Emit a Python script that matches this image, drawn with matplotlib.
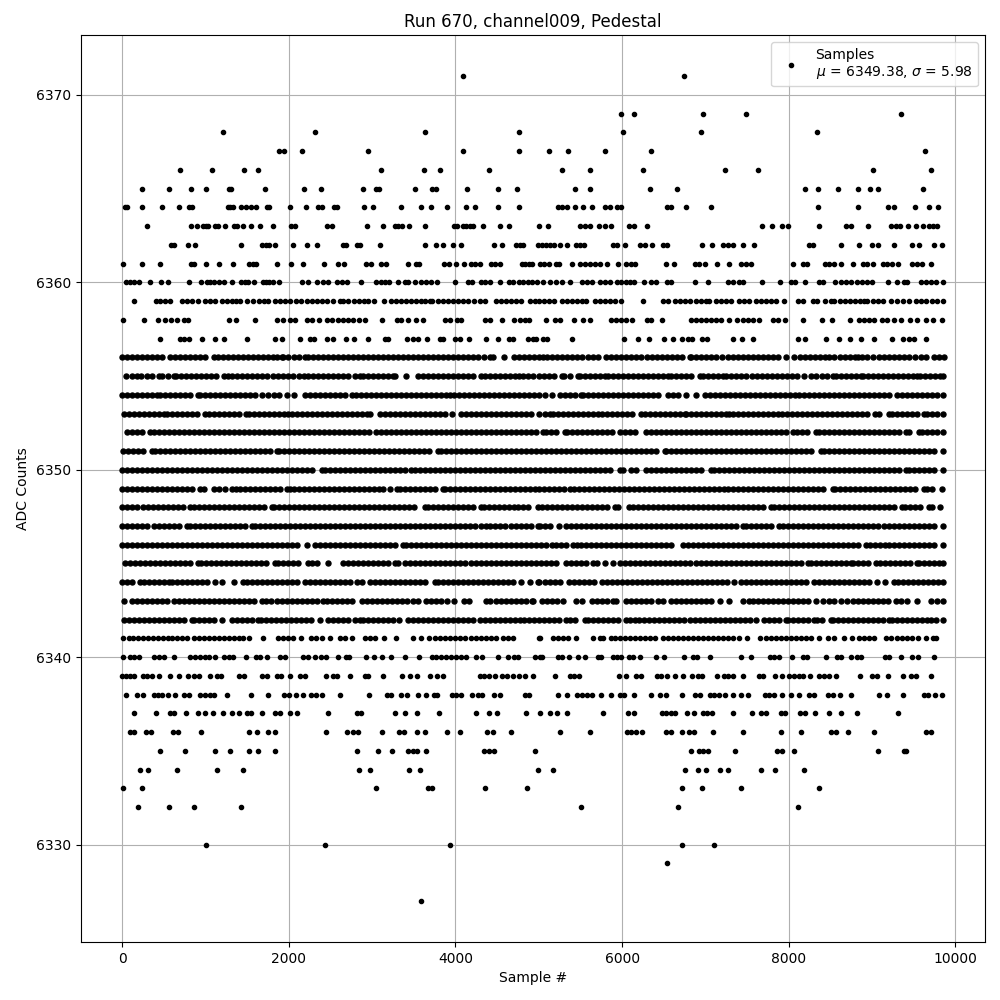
import matplotlib
matplotlib.use("Agg")
import matplotlib.pyplot as plt

r6371 = [4090, 6742]
r6369 = [5992, 6144, 6970, 7484, 9352]
r6368 = [1205, 2318, 3635, 4760, 6012, 6946, 8334]
r6367 = [1887, 1939, 2163, 2953, 4090, 4760, 5126, 5354, 5797, 6347, 9639]
r6366 = [690, 1073, 1468, 1636, 3108, 3627, 3814, 4400, 5282, 5617, 6251, 7233, 7628, 9016, 9711]
r6365 = [235, 559, 826, 1001, 1277, 1305, 1720, 2186, 2390, 2893, 3052, 3084, 3515, 3715, 3771, 4138, 4509, 4736, 5441, 5617, 6335, 6658, 8190, 8346, 8586, 8837, 8981, 9076, 9615]
r6364 = [36, 64, 235, 475, 678, 802, 842, 1269, 1297, 1325, 1428, 1484, 1544, 1612, 1736, 1764, 2019, 2210, 2346, 2394, 2542, 2574, 2905, 3012, 3348, 3587, 3707, 3898, 4126, 4234, 4509, 4760, 5234, 5282, 5334, 5437, 5533, 5641, 5797, 5852, 5940, 5992, 6538, 6582, 6770, 7065, 8346, 8837, 9196, 9264, 9519, 9679, 9794]
r6363 = [295, 826, 894, 970, 1001, 1033, 1109, 1153, 1229, 1345, 1381, 1456, 1552, 1652, 1815, 2031, 2075, 2458, 2522, 2941, 3132, 3272, 3312, 3364, 3443, 3635, 3978, 4022, 4090, 4130, 4170, 4214, 4329, 4533, 4640, 4999, 5110, 5497, 5553, 5613, 5725, 5793, 5864, 6084, 6140, 6299, 7676, 7796, 7915, 7987, 8358, 8685, 8745, 8957, 9232, 9284, 9332, 9435, 9523, 9615, 9683, 9731, 9783]
r6362 = [587, 618, 794, 874, 1432, 1684, 1728, 1768, 1831, 2051, 2222, 2338, 2653, 2685, 2821, 2853, 3096, 3635, 3767, 3850, 3970, 4066, 4461, 4557, 4724, 4776, 4816, 4991, 5038, 5086, 5134, 5182, 5254, 5334, 5449, 5493, 5549, 5892, 5940, 6040, 6211, 6279, 6359, 6491, 6542, 6958, 7077, 7217, 7273, 7329, 7456, 7580, 8246, 8294, 8633, 8849, 9004, 9068, 9268, 9483, 9563, 9743, 9834]
r6361 = [8, 235, 451, 826, 866, 1001, 1157, 1333, 1528, 1568, 1608, 1855, 2031, 2174, 2418, 2589, 2657, 2925, 2981, 3108, 3164, 3431, 3523, 3563, 3858, 3918, 4006, 4102, 4182, 4230, 4293, 4425, 4469, 4533, 4800, 4840, 4880, 4915, 5014, 5062, 5122, 5206, 5242, 5401, 5493, 5553, 5613, 5673, 5733, 5820, 5952, 6052, 6104, 6160, 6531, 6618, 6870, 6922, 6998, 7141, 7289, 7428, 7488, 7548, 8055, 8167, 8219, 8434, 8486, 8538, 8625, 8777, 8893, 8945, 9012, 9132, 9184, 9244, 9312, 9483, 9543, 9595, 9711]
r6360 = [52, 92, 140, 200, 331, 463, 547, 798, 942, 1013, 1057, 1097, 1157, 1221, 1321, 1432, 1472, 1508, 1588, 1688, 1728, 1768, 1807, 1887, 2158, 2234, 2342, 2406, 2474, 2581, 2637, 2693, 2869, 3048, 3112, 3156, 3204, 3312, 3392, 3431, 3515, 3587, 3651, 3711, 3783, 3990, 4150, 4202, 4309, 4349, 4417, 4533, 4640, 4688, 4760, 4808, 4868, 4915, 4975, 5054, 5134, 5206, 5282, 5373, 5525, 5581, 5645, 5733, 5793, 5852, 5940, 5992, 6044, 6100, 6148, 6263, 6351, 6403, 6543, 6582, 6874, 7030, 7277, 7337, 7401, 7448, 7676, 7895, 8027, 8079, 8190, 8366, 8406, 8558, 8625, 8685, 8745, 8825, 8885, 8945, 9004, 9188, 9296, 9383, 9423, 9583, 9643, 9711, 9771, 9850]
r6359 = [140, 411, 451, 519, 571, 718, 780, 840, 905, 998, 1057, 1117, 1197, 1255, 1315, 1369, 1420, 1504, 1570, 1640, 1700, 1756, 1835, 1895, 1960, 2020, 2085, 2150, 2214, 2274, 2335, 2400, 2460, 2525, 2613, 2653, 2715, 2780, 2840, 2901, 2953, 3024, 3144, 3232, 3290, 3350, 3410, 3470, 3530, 3590, 3640, 3691, 3719, 3790, 3850, 3910, 3970, 4030, 4090, 4150, 4225, 4289, 4357, 4489, 4550, 4610, 4670, 4730, 4788, 4896, 4955, 5007, 5060, 5120, 5180, 5274, 5334, 5395, 5455, 5515, 5573, 5673, 5735, 5795, 5855, 5920, 5992, 6251, 6491, 6550, 6630, 6698, 6760, 6820, 6885, 6945, 7009, 7049, 7129, 7189, 7250, 7310, 7408, 7468, 7528, 7608, 7670, 7730, 7790, 7850, 7947, 8107, 8167, 8286, 8345, 8430, 8506, 8546, 8610, 8670, 8730, 8790, 8850, 8905, 8945, 9010, 9070, 9130, 9224, 9304, 9375, 9443, 9523, 9585, 9650, 9715, 9783, 9850]
r6358 = [8, 259, 431, 519, 591, 658, 746, 790, 1277, 1369, 1600, 1863, 1927, 2015, 2075, 2222, 2278, 2366, 2454, 2514, 2593, 2655, 2715, 2775, 2840, 2913, 3124, 3300, 3352, 3432, 3531, 3611, 3870, 3938, 4018, 4070, 4349, 4409, 4561, 4708, 4775, 4830, 4888, 5083, 5194, 5254, 5429, 5533, 5613, 5864, 5924, 5992, 6052, 6124, 6299, 6351, 6475, 6830, 6890, 6950, 7009, 7069, 7130, 7190, 7289, 7377, 7448, 7508, 7568, 7640, 7807, 7867, 7959, 8167, 8398, 8514, 8741, 8845, 8905, 8965, 9025, 9124, 9184, 9260, 9344, 9451, 9543, 9643, 9731, 9834]
r6357 = [451, 698, 746, 798, 954, 1109, 1217, 1504, 1835, 1923, 2139, 2254, 2302, 2454, 2526, 2689, 2785, 2953, 3152, 3192, 3419, 3491, 3551, 3659, 3810, 3850, 3990, 4050, 4161, 4369, 4509, 4648, 4696, 4868, 4936, 4967, 5054, 5094, 5401, 6024, 6192, 6323, 6503, 6610, 6722, 6790, 6838, 6958, 7017, 7329, 7436, 7568, 8107, 8195, 8442, 8609, 8741, 8873, 9028, 9244, 9376, 9443, 9503, 9651]
r6356 = [0, 60, 120, 180, 240, 300, 360, 420, 480, 578, 638, 700, 760, 820, 880, 940, 1000, 1097, 1145, 1205, 1265, 1325, 1385, 1445, 1505, 1565, 1625, 1685, 1745, 1805, 1860, 1915, 1935, 1995, 2060, 2125, 2194, 2234, 2295, 2355, 2415, 2475, 2535, 2595, 2655, 2715, 2775, 2835, 2895, 2955, 3015, 3075, 3135, 3195, 3255, 3315, 3375, 3435, 3495, 3555, 3615, 3675, 3735, 3795, 3855, 3915, 3975, 4035, 4095, 4155, 4215, 4275, 4340, 4409, 4449, 4577, 4708, 4768, 4828, 4888, 4948, 5007, 5054, 5102, 5165, 5225, 5285, 5345, 5405, 5465, 5525, 5590, 5650, 5713, 5804, 5865, 5925, 5990, 6050, 6110, 6172, 6231, 6295, 6355, 6415, 6475, 6535, 6595, 6655, 6715, 6810, 6830, 6890, 6950, 7010, 7070, 7129, 7201, 7269, 7330, 7390, 7450, 7510, 7570, 7630, 7690, 7750, 7810, 7867, 7967, 8067, 8130, 8190, 8250, 8310, 8370, 8430, 8486, 8546, 8610, 8670, 8730, 8790, 8830, 8885, 8945, 9015, 9084, 9144, 9205, 9265, 9325, 9385, 9445, 9520, 9583, 9651, 9743, 9800, 9862]
r6355 = [48, 120, 180, 227, 299, 360, 439, 479, 550, 618, 646, 706, 766, 826, 886, 946, 1006, 1066, 1126, 1217, 1265, 1317, 1377, 1437, 1497, 1557, 1617, 1677, 1736, 1807, 1870, 1930, 1990, 2050, 2120, 2183, 2234, 2294, 2354, 2414, 2474, 2534, 2594, 2654, 2714, 2790, 2853, 2893, 2953, 3013, 3073, 3133, 3193, 3252, 3280, 3412, 3551, 3610, 3671, 3731, 3791, 3851, 3911, 3971, 4031, 4091, 4151, 4211, 4309, 4357, 4420, 4480, 4540, 4600, 4660, 4720, 4768, 4808, 4870, 4930, 5007, 5065, 5125, 5185, 5274, 5306, 5380, 5473, 5493, 5555, 5615, 5675, 5735, 5792, 5832, 5892, 5952, 6012, 6072, 6132, 6192, 6252, 6312, 6372, 6432, 6492, 6551, 6590, 6650, 6710, 6770, 6830, 6930, 6970, 7030, 7090, 7150, 7209, 7249, 7310, 7370, 7430, 7488, 7560, 7620, 7680, 7740, 7800, 7860, 7920, 7980, 8040, 8100, 8186, 8266, 8330, 8395, 8460, 8526, 8566, 8626, 8686, 8746, 8806, 8865, 8897, 8957, 9017, 9077, 9137, 9197, 9257, 9317, 9377, 9437, 9497, 9543, 9571, 9631, 9691, 9751, 9811, 9850]
r6354 = [0, 60, 120, 180, 240, 300, 360, 419, 451, 511, 571, 631, 691, 751, 811, 906, 938, 998, 1058, 1118, 1178, 1238, 1298, 1358, 1418, 1478, 1538, 1598, 1676, 1756, 1820, 1880, 1975, 2059, 2194, 2254, 2314, 2374, 2434, 2494, 2554, 2614, 2674, 2753, 2801, 2861, 2921, 2981, 3041, 3101, 3161, 3221, 3281, 3341, 3401, 3461, 3521, 3581, 3641, 3701, 3761, 3821, 3881, 3930, 3978, 4038, 4098, 4158, 4218, 4278, 4338, 4398, 4458, 4518, 4578, 4638, 4698, 4758, 4818, 4878, 4938, 5007, 5074, 5154, 5254, 5314, 5374, 5434, 5513, 5533, 5593, 5653, 5713, 5773, 5833, 5893, 5953, 6013, 6073, 6133, 6193, 6253, 6313, 6373, 6431, 6551, 6610, 6670, 6770, 6882, 6990, 7050, 7110, 7170, 7230, 7290, 7350, 7410, 7470, 7530, 7590, 7650, 7710, 7770, 7830, 7890, 7950, 8010, 8070, 8127, 8186, 8246, 8306, 8366, 8426, 8486, 8546, 8606, 8666, 8726, 8786, 8846, 8906, 8966, 9026, 9086, 9146, 9206, 9304, 9355, 9415, 9475, 9535, 9595, 9655, 9715, 9775, 9850]
r6353 = [20, 80, 140, 200, 260, 320, 380, 440, 499, 539, 599, 659, 719, 779, 839, 899, 998, 1045, 1105, 1165, 1225, 1285, 1345, 1405, 1488, 1520, 1580, 1640, 1700, 1760, 1820, 1880, 1940, 1995, 2035, 2095, 2155, 2215, 2275, 2335, 2395, 2455, 2515, 2575, 2635, 2695, 2755, 2815, 2875, 2933, 2973, 3092, 3152, 3212, 3272, 3332, 3392, 3452, 3512, 3571, 3631, 3691, 3751, 3811, 3871, 3962, 4070, 4130, 4190, 4250, 4310, 4370, 4430, 4490, 4550, 4610, 4670, 4730, 4790, 4850, 4910, 5007, 5070, 5134, 5166, 5226, 5286, 5346, 5406, 5466, 5526, 5586, 5646, 5713, 5765, 5825, 5885, 5945, 6005, 6065, 6125, 6231, 6271, 6331, 6391, 6451, 6511, 6571, 6631, 6691, 6750, 6770, 6830, 6890, 6950, 7010, 7070, 7130, 7190, 7249, 7289, 7337, 7389, 7449, 7509, 7569, 7629, 7689, 7749, 7809, 7867, 7915, 7975, 8035, 8095, 8155, 8215, 8275, 8335, 8395, 8455, 8515, 8575, 8635, 8695, 8755, 8815, 8875, 8935, 9036, 9084, 9204, 9236, 9296, 9356, 9416, 9476, 9536, 9623, 9663, 9723, 9783, 9850]
r6352 = [60, 120, 180, 239, 339, 379, 439, 499, 559, 619, 679, 739, 799, 859, 919, 979, 1039, 1099, 1159, 1219, 1279, 1339, 1399, 1459, 1519, 1579, 1639, 1699, 1759, 1819, 1879, 1939, 1999, 2059, 2119, 2179, 2239, 2299, 2359, 2419, 2479, 2539, 2599, 2659, 2719, 2779, 2839, 2899, 2959, 3052, 3112, 3172, 3232, 3292, 3352, 3412, 3472, 3532, 3592, 3652, 3712, 3772, 3832, 3892, 3952, 4012, 4072, 4132, 4192, 4252, 4312, 4372, 4432, 4492, 4552, 4612, 4672, 4732, 4792, 4852, 4912, 4972, 5046, 5086, 5146, 5206, 5314, 5342, 5402, 5462, 5522, 5582, 5642, 5702, 5762, 5822, 5882, 5980, 6032, 6092, 6152, 6291, 6351, 6411, 6471, 6531, 6591, 6651, 6711, 6771, 6831, 6891, 6951, 7011, 7071, 7131, 7191, 7251, 7311, 7371, 7431, 7491, 7551, 7611, 7671, 7731, 7791, 7851, 7911, 7971, 8047, 8099, 8159, 8219, 8326, 8366, 8426, 8486, 8546, 8606, 8666, 8726, 8786, 8846, 8906, 8966, 9026, 9086, 9146, 9206, 9266, 9326, 9403, 9443, 9563, 9603, 9663, 9723, 9783, 9850]
r6351 = [12, 72, 132, 192, 252, 359, 391, 451, 511, 571, 631, 691, 751, 811, 871, 931, 991, 1051, 1111, 1171, 1231, 1291, 1351, 1411, 1471, 1531, 1591, 1651, 1711, 1771, 1855, 1887, 1947, 2007, 2067, 2127, 2187, 2247, 2307, 2367, 2427, 2487, 2547, 2607, 2667, 2727, 2787, 2847, 2907, 2967, 3027, 3087, 3147, 3207, 3267, 3327, 3387, 3447, 3507, 3567, 3627, 3687, 3790, 3830, 3890, 3950, 4010, 4070, 4130, 4190, 4250, 4310, 4370, 4430, 4490, 4550, 4610, 4670, 4730, 4790, 4850, 4910, 4970, 5030, 5090, 5150, 5210, 5270, 5330, 5390, 5450, 5510, 5570, 5630, 5690, 5750, 5810, 5870, 5930, 5990, 6050, 6110, 6170, 6230, 6290, 6350, 6410, 6511, 6531, 6591, 6651, 6711, 6771, 6831, 6891, 6951, 7011, 7071, 7131, 7191, 7251, 7311, 7371, 7431, 7491, 7551, 7611, 7671, 7731, 7791, 7851, 7911, 7971, 8031, 8091, 8151, 8211, 8271, 8386, 8426, 8486, 8546, 8606, 8666, 8726, 8786, 8846, 8906, 8966, 9026, 9086, 9146, 9206, 9266, 9326, 9386, 9446, 9506, 9566, 9626, 9686, 9746, 9850]
r6350 = [0, 60, 120, 180, 240, 300, 360, 420, 480, 540, 600, 660, 720, 780, 840, 900, 960, 1020, 1080, 1140, 1200, 1260, 1320, 1380, 1440, 1500, 1560, 1620, 1680, 1740, 1800, 1860, 1920, 1980, 2040, 2100, 2160, 2220, 2280, 2394, 2434, 2494, 2554, 2614, 2674, 2734, 2794, 2854, 2914, 2974, 3034, 3094, 3154, 3214, 3274, 3334, 3394, 3472, 3512, 3572, 3632, 3692, 3752, 3812, 3872, 3932, 3992, 4052, 4112, 4172, 4232, 4292, 4352, 4412, 4472, 4532, 4592, 4652, 4712, 4772, 4832, 4892, 4952, 5012, 5072, 5132, 5192, 5252, 5312, 5372, 5432, 5492, 5552, 5612, 5672, 5732, 5792, 5852, 5972, 6012, 6112, 6172, 6291, 6351, 6411, 6471, 6531, 6591, 6651, 6711, 6771, 6831, 6891, 6951, 7069, 7109, 7169, 7229, 7289, 7349, 7409, 7469, 7529, 7589, 7649, 7709, 7769, 7829, 7889, 7949, 8009, 8069, 8129, 8189, 8249, 8309, 8369, 8429, 8489, 8549, 8609, 8669, 8729, 8789, 8849, 8909, 8969, 9029, 9089, 9149, 9209, 9269, 9329, 9403, 9443, 9503, 9563, 9623, 9683, 9743, 9850]
r6349 = [0, 60, 120, 180, 240, 300, 360, 420, 480, 540, 600, 660, 720, 780, 840, 938, 986, 1105, 1157, 1240, 1317, 1369, 1417, 1476, 1536, 1596, 1656, 1716, 1776, 1836, 1896, 1975, 2015, 2063, 2123, 2183, 2243, 2303, 2363, 2423, 2483, 2543, 2603, 2663, 2723, 2783, 2843, 2903, 2963, 3023, 3084, 3132, 3215, 3300, 3340, 3400, 3460, 3520, 3580, 3640, 3700, 3760, 3850, 3870, 3930, 3990, 4050, 4110, 4170, 4230, 4290, 4350, 4410, 4470, 4530, 4590, 4650, 4710, 4770, 4830, 4890, 4950, 5007, 5060, 5120, 5180, 5240, 5300, 5373, 5421, 5481, 5541, 5601, 5661, 5721, 5781, 5841, 5901, 5961, 6021, 6081, 6141, 6201, 6261, 6321, 6381, 6441, 6501, 6561, 6621, 6681, 6741, 6801, 6861, 6921, 6981, 7041, 7101, 7161, 7229, 7277, 7337, 7397, 7457, 7517, 7577, 7637, 7697, 7757, 7817, 7877, 7937, 7997, 8057, 8117, 8177, 8237, 8297, 8357, 8417, 8526, 8558, 8618, 8678, 8738, 8798, 8858, 8918, 8978, 9038, 9098, 9158, 9218, 9278, 9338, 9398, 9458, 9518, 9623, 9663, 9723, 9834]
r6348 = [0, 60, 120, 180, 251, 311, 371, 431, 491, 551, 611, 671, 731, 818, 866, 926, 986, 1046, 1106, 1166, 1226, 1286, 1346, 1406, 1466, 1526, 1586, 1646, 1706, 1795, 1823, 1883, 1943, 2003, 2063, 2123, 2183, 2243, 2303, 2363, 2423, 2483, 2543, 2603, 2663, 2723, 2783, 2843, 2903, 2963, 3023, 3083, 3143, 3203, 3263, 3323, 3383, 3443, 3503, 3631, 3671, 3731, 3791, 3851, 3911, 3971, 4031, 4091, 4151, 4211, 4309, 4341, 4401, 4461, 4521, 4581, 4641, 4708, 4748, 4808, 4868, 4987, 5034, 5094, 5154, 5214, 5274, 5334, 5394, 5454, 5514, 5574, 5634, 5694, 5754, 5814, 5912, 5952, 6084, 6132, 6192, 6252, 6312, 6372, 6432, 6492, 6552, 6612, 6672, 6732, 6792, 6852, 6912, 6972, 7032, 7092, 7152, 7212, 7272, 7332, 7392, 7452, 7512, 7572, 7632, 7692, 7788, 7827, 7887, 7947, 8007, 8067, 8127, 8187, 8247, 8307, 8367, 8427, 8487, 8547, 8607, 8667, 8727, 8787, 8847, 8907, 8967, 9027, 9087, 9147, 9207, 9267, 9356, 9395, 9455, 9515, 9575, 9683, 9723, 9810]
r6347 = [0, 60, 120, 180, 240, 300, 379, 439, 499, 559, 619, 679, 778, 810, 870, 930, 990, 1050, 1110, 1170, 1230, 1290, 1350, 1410, 1470, 1556, 1596, 1656, 1716, 1776, 1836, 1896, 1956, 2016, 2076, 2136, 2196, 2256, 2316, 2376, 2436, 2496, 2556, 2616, 2676, 2736, 2796, 2856, 2916, 2976, 3036, 3096, 3156, 3216, 3276, 3336, 3396, 3456, 3516, 3576, 3636, 3696, 3756, 3816, 3876, 3936, 3996, 4056, 4116, 4176, 4236, 4309, 4369, 4409, 4469, 4529, 4589, 4668, 4728, 4788, 4848, 4908, 4987, 5014, 5074, 5134, 5246, 5326, 5386, 5446, 5506, 5566, 5626, 5686, 5746, 5806, 5866, 5926, 5986, 6046, 6106, 6166, 6226, 6286, 6346, 6406, 6466, 6526, 6586, 6646, 6706, 6766, 6826, 6886, 6946, 7006, 7066, 7126, 7186, 7246, 7306, 7366, 7448, 7488, 7548, 7608, 7668, 7728, 7788, 7887, 7935, 7995, 8055, 8115, 8175, 8235, 8295, 8355, 8415, 8475, 8535, 8595, 8655, 8715, 8775, 8835, 8895, 8955, 9015, 9075, 9144, 9204, 9264, 9324, 9384, 9444, 9504, 9564, 9624, 9684, 9744, 9850]
r6346 = [0, 60, 120, 180, 240, 300, 360, 420, 480, 540, 600, 660, 720, 780, 840, 900, 960, 1020, 1080, 1140, 1200, 1260, 1320, 1380, 1440, 1500, 1560, 1620, 1680, 1740, 1800, 1860, 1920, 1980, 2040, 2100, 2214, 2314, 2374, 2434, 2494, 2554, 2614, 2674, 2734, 2794, 2854, 2914, 2974, 3034, 3094, 3154, 3214, 3274, 3372, 3408, 3472, 3532, 3592, 3652, 3712, 3772, 3832, 3892, 3952, 4012, 4072, 4132, 4192, 4252, 4312, 4372, 4432, 4492, 4552, 4612, 4672, 4732, 4792, 4852, 4912, 4972, 5032, 5092, 5154, 5206, 5266, 5326, 5413, 5465, 5513, 5573, 5633, 5693, 5753, 5813, 5873, 5933, 5993, 6053, 6113, 6173, 6233, 6293, 6353, 6413, 6473, 6533, 6593, 6730, 6790, 6850, 6910, 6970, 7030, 7090, 7150, 7210, 7270, 7330, 7390, 7450, 7510, 7570, 7630, 7690, 7750, 7810, 7870, 7930, 7990, 8050, 8110, 8170, 8230, 8290, 8350, 8410, 8470, 8530, 8590, 8650, 8710, 8770, 8830, 8925, 8973, 9033, 9093, 9156, 9204, 9264, 9324, 9384, 9444, 9504, 9564, 9624, 9684, 9744, 9850]
r6345 = [40, 100, 160, 220, 280, 340, 400, 460, 520, 580, 640, 700, 760, 820, 906, 946, 1006, 1066, 1126, 1186, 1246, 1306, 1366, 1426, 1486, 1546, 1606, 1666, 1726, 1835, 1875, 1935, 1995, 2055, 2115, 2234, 2274, 2334, 2474, 2653, 2713, 2773, 2833, 2893, 2953, 3013, 3073, 3133, 3193, 3272, 3312, 3392, 3452, 3512, 3572, 3632, 3692, 3752, 3812, 3872, 3932, 3992, 4052, 4112, 4189, 4249, 4309, 4369, 4429, 4489, 4549, 4609, 4669, 4729, 4789, 4849, 4909, 4969, 5030, 5086, 5142, 5206, 5326, 5386, 5446, 5506, 5566, 5653, 5705, 5793, 5892, 5972, 6032, 6092, 6152, 6212, 6272, 6332, 6392, 6452, 6512, 6572, 6632, 6692, 6750, 6810, 6890, 6950, 7010, 7070, 7130, 7190, 7250, 7310, 7370, 7430, 7490, 7550, 7610, 7670, 7730, 7790, 7850, 7910, 7970, 8030, 8090, 8150, 8226, 8266, 8326, 8386, 8446, 8506, 8566, 8626, 8686, 8745, 8773, 8833, 8893, 8953, 9044, 9092, 9152, 9212, 9272, 9332, 9392, 9452, 9543, 9563, 9623, 9683, 9743, 9803, 9850]
r6344 = [0, 60, 120, 219, 259, 319, 379, 439, 499, 558, 598, 658, 718, 778, 838, 898, 958, 1018, 1117, 1197, 1337, 1456, 1496, 1556, 1616, 1676, 1736, 1796, 1856, 1916, 1976, 2036, 2096, 2194, 2254, 2314, 2374, 2434, 2494, 2554, 2614, 2674, 2734, 2813, 2873, 2973, 3040, 3100, 3160, 3220, 3280, 3340, 3400, 3460, 3520, 3580, 3640, 3751, 3790, 3850, 3910, 3970, 4030, 4090, 4150, 4210, 4270, 4330, 4390, 4450, 4510, 4570, 4630, 4690, 4788, 4896, 4987, 5007, 5074, 5134, 5194, 5254, 5366, 5426, 5486, 5546, 5606, 5666, 5765, 5820, 5880, 5940, 6000, 6060, 6120, 6180, 6240, 6300, 6360, 6420, 6480, 6540, 6600, 6660, 6720, 6780, 6840, 6900, 6960, 7020, 7080, 7140, 7201, 7261, 7341, 7428, 7488, 7548, 7608, 7668, 7728, 7788, 7848, 7908, 7968, 8028, 8088, 8148, 8208, 8306, 8358, 8418, 8478, 8538, 8598, 8658, 8718, 8778, 8838, 8898, 8958, 9064, 9156, 9264, 9316, 9376, 9436, 9496, 9556, 9616, 9676, 9736, 9796, 9850]
r6343 = [20, 120, 180, 240, 300, 360, 420, 480, 538, 618, 686, 746, 806, 866, 926, 986, 1046, 1106, 1166, 1226, 1286, 1346, 1406, 1466, 1526, 1586, 1676, 1728, 1784, 1855, 1915, 1975, 2035, 2095, 2155, 2215, 2275, 2335, 2414, 2454, 2514, 2574, 2634, 2694, 2754, 2873, 2933, 2993, 3053, 3113, 3173, 3233, 3293, 3353, 3413, 3491, 3551, 3651, 3711, 3771, 3830, 3900, 3978, 4098, 4161, 4361, 4409, 4481, 4541, 4601, 4661, 4721, 4781, 4841, 4915, 4928, 5034, 5094, 5154, 5214, 5294, 5453, 5525, 5645, 5705, 5765, 5825, 5892, 5924, 6044, 6112, 6172, 6232, 6292, 6352, 6431, 6491, 6590, 6650, 6710, 6770, 6830, 6890, 6950, 7010, 7070, 7177, 7281, 7448, 7528, 7576, 7636, 7696, 7756, 7816, 7876, 7936, 7996, 8056, 8116, 8176, 8236, 8326, 8406, 8486, 8546, 8625, 8705, 8773, 8833, 8893, 8953, 9013, 9073, 9133, 9193, 9284, 9344, 9423, 9543, 9703, 9783, 9850]
r6342 = [28, 88, 148, 208, 268, 328, 388, 448, 508, 568, 628, 688, 748, 838, 866, 926, 986, 1046, 1106, 1197, 1317, 1377, 1437, 1497, 1557, 1636, 1664, 1724, 1784, 1844, 1904, 1964, 2024, 2084, 2144, 2204, 2264, 2374, 2474, 2534, 2594, 2654, 2714, 2793, 2853, 2893, 2953, 3013, 3073, 3133, 3192, 3252, 3324, 3432, 3492, 3552, 3612, 3671, 3731, 3790, 3850, 3910, 3970, 4030, 4090, 4150, 4210, 4289, 4349, 4409, 4469, 4529, 4589, 4649, 4709, 4769, 4828, 4888, 4948, 5007, 5060, 5120, 5180, 5240, 5326, 5373, 5440, 5553, 5593, 5653, 5713, 5773, 5833, 5893, 5953, 6052, 6092, 6152, 6204, 6264, 6324, 6384, 6444, 6504, 6564, 6624, 6684, 6744, 6818, 6870, 6930, 6990, 7050, 7110, 7170, 7230, 7290, 7350, 7410, 7470, 7530, 7608, 7708, 7768, 7828, 7888, 7967, 7987, 8047, 8107, 8167, 8227, 8306, 8334, 8394, 8506, 8534, 8594, 8654, 8714, 8774, 8834, 8894, 8954, 9014, 9074, 9134, 9204, 9244, 9304, 9364, 9424, 9484, 9544, 9604, 9663, 9703, 9763, 9850]
r6341 = [12, 80, 132, 192, 252, 312, 372, 432, 492, 547, 598, 658, 718, 778, 858, 918, 978, 1038, 1098, 1158, 1218, 1278, 1338, 1398, 1456, 1528, 1688, 1875, 1935, 1995, 2055, 2143, 2262, 2326, 2394, 2494, 2613, 2673, 2753, 2913, 2973, 3032, 3140, 3288, 3491, 3591, 3683, 3751, 3811, 3871, 3931, 3991, 4051, 4111, 4189, 4249, 4309, 4369, 4429, 4489, 4568, 4636, 4688, 4999, 5018, 5174, 5234, 5294, 5354, 5445, 5653, 5733, 5773, 5872, 5912, 5972, 6032, 6092, 6152, 6212, 6272, 6332, 6391, 6491, 6551, 6611, 6671, 6731, 6791, 6851, 6911, 6971, 7031, 7091, 7151, 7211, 7271, 7329, 7401, 7496, 7656, 7728, 7788, 7848, 7908, 7968, 8028, 8088, 8148, 8208, 8268, 8366, 8466, 8546, 8669, 8765, 8845, 8905, 8965, 9024, 9172, 9224, 9304, 9364, 9424, 9483, 9555, 9643, 9731, 9771]
r6340 = [8, 100, 140, 203, 387, 439, 499, 626, 818, 878, 938, 998, 1037, 1117, 1217, 1277, 1329, 1488, 1608, 1656, 1744, 1895, 1955, 2175, 2234, 2314, 2382, 2446, 2593, 2685, 2725, 2921, 3024, 3124, 3232, 3400, 3559, 3719, 3771, 3830, 3890, 3950, 4010, 4070, 4130, 4249, 4321, 4509, 4628, 4708, 4748, 4955, 5014, 5042, 5226, 5282, 5366, 5473, 5557, 5713, 5745, 5892, 5940, 5992, 6084, 6132, 6211, 6411, 6503, 6738, 6850, 6902, 7053, 7428, 7548, 7776, 7827, 7879, 8035, 8167, 8219, 8442, 8585, 8625, 8745, 8825, 8873, 9156, 9204, 9352, 9483, 9551, 9743]
r6339 = [2, 52, 100, 140, 251, 299, 359, 439, 579, 678, 786, 858, 918, 1057, 1137, 1185, 1397, 1468, 1676, 1736, 1855, 1903, 2019, 2135, 2194, 2446, 2534, 2581, 2737, 2913, 2953, 3132, 3364, 3451, 3539, 3695, 3779, 3850, 4289, 4341, 4397, 4473, 4561, 4621, 4688, 4768, 4840, 4927, 5194, 5381, 5421, 5485, 5960, 6052, 6164, 6223, 6419, 6471, 6539, 6638, 6730, 6842, 6910, 6958, 7137, 7221, 7277, 7337, 7448, 7648, 7696, 7835, 7915, 7999, 8059, 8119, 8175, 8258, 8366, 8426, 8486, 8566, 8861, 8997, 9064, 9196, 9376, 9463, 9531, 9711]
r6338 = [48, 180, 247, 379, 431, 479, 547, 630, 738, 798, 938, 990, 1049, 1097, 1253, 1548, 1756, 1943, 2003, 2091, 2174, 2262, 2326, 2394, 2617, 2965, 3180, 3232, 3352, 3419, 3551, 3647, 3739, 3783, 3958, 4010, 4070, 4202, 4269, 4317, 4461, 4529, 4840, 4880, 5234, 5334, 5461, 5525, 5581, 5641, 5745, 5868, 5980, 6028, 6144, 6347, 6451, 6523, 6718, 6870, 6930, 7057, 7109, 7169, 7241, 7337, 7424, 7508, 7712, 7768, 7819, 7919, 8027, 8119, 8246, 8306, 8466, 8526, 8613, 8745, 9084, 9184, 9376, 9623, 9671, 9759, 9843]
r6337 = [140, 411, 579, 618, 762, 906, 990, 1085, 1209, 1317, 1397, 1496, 1548, 1684, 1835, 1895, 2015, 2103, 2474, 2813, 2861, 3276, 3395, 3539, 3802, 4245, 4401, 4497, 4844, 5018, 5134, 5214, 5334, 5773, 6076, 6140, 6479, 6531, 6591, 6638, 6778, 6862, 6970, 7021, 7081, 7329, 7556, 7668, 7728, 7907, 7951, 8135, 8190, 8314, 8478, 8625, 8825, 9316]
r6336 = [92, 148, 291, 347, 610, 666, 942, 1528, 1624, 1756, 1831, 2450, 2701, 2773, 2825, 3120, 3324, 3384, 3539, 3635, 3898, 4054, 4377, 4449, 4664, 5258, 5617, 6056, 6112, 6172, 6243, 6531, 6591, 6718, 6798, 6866, 7089, 7448, 7903, 8143, 8510, 8566, 8717, 9028, 9651, 9703]
r6335 = [451, 750, 1109, 1289, 1528, 1636, 1839, 2821, 3072, 3240, 3431, 3491, 3539, 3647, 4341, 4401, 4465, 4959, 6826, 6922, 6970, 7037, 7353, 7855, 7919, 8059, 9076, 9383, 9411]
r6334 = [211, 311, 654, 1133, 1456, 2845, 2977, 3443, 3575, 4995, 5174, 6754, 6910, 7005, 7173, 7269, 7664, 7831, 8179]
r6333 = [8, 235, 3048, 3671, 3723, 4353, 4864, 6718, 6958, 7424, 8358]
r6332 = [188, 559, 858, 1432, 5509, 6670, 8107]
r6330 = [1001, 2438, 3934, 6718, 7101]
r6329 = [6539]
r6327 = [3587]

sparse_levels = [6371, 6369, 6368, 6367, 6366, 6365, 6364, 6363, 6362, 6361, 6360, 6359, 6358, 6357, 6341, 6340, 6339, 6338, 6337, 6336, 6335, 6334, 6333, 6332, 6330, 6329, 6327]
sparse_rows = [r6371, r6369, r6368, r6367, r6366, r6365, r6364, r6363, r6362, r6361, r6360, r6359, r6358, r6357, r6341, r6340, r6339, r6338, r6337, r6336, r6335, r6334, r6333, r6332, r6330, r6329, r6327]
dense_levels = [6356, 6355, 6354, 6353, 6352, 6351, 6350, 6349, 6348, 6347, 6346, 6345, 6344, 6343, 6342]
dense_rows = [r6356, r6355, r6354, r6353, r6352, r6351, r6350, r6349, r6348, r6347, r6346, r6345, r6344, r6343, r6342]


def flatten(levels, rows):
    xs, ys = [], []
    for level, row in zip(levels, rows):
        xs.extend(row)
        ys.extend([level] * len(row))
    return xs, ys


fig, ax = plt.subplots(figsize=(10, 10), dpi=100)
sx, sy = flatten(sparse_levels, sparse_rows)
dx, dy = flatten(dense_levels, dense_rows)
ax.plot(sx, sy, "k.", label="Samples\n$\\mu$ = 6349.38, $\\sigma$ = 5.98")
ax.plot(dx, dy, "k.", markersize=7.2)
ax.set_title("Run 670, channel009, Pedestal")
ax.set_xlabel("Sample #")
ax.set_ylabel("ADC Counts")
ax.ticklabel_format(useOffset=False, style="plain", axis="y")
ax.grid(True)
ax.legend(loc="upper right")
fig.subplots_adjust(left=0.081, right=0.985, top=0.965, bottom=0.058)
fig.savefig("out.png")
